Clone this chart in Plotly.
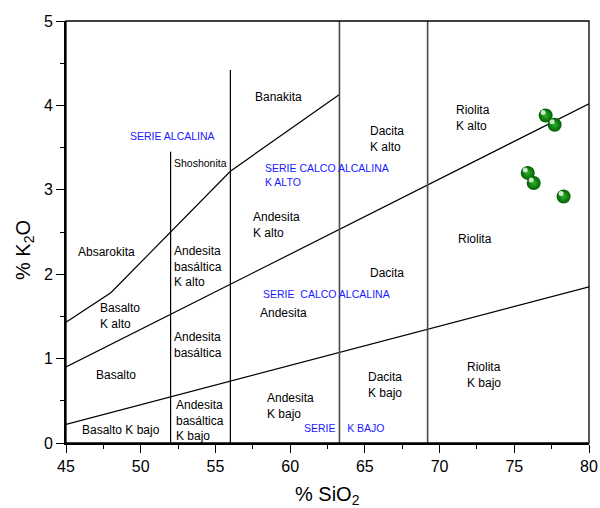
import plotly.graph_objects as go

# Sample analyses
sio2 = [77.1, 77.7, 75.9, 76.3, 78.3]
k2o = [3.88, 3.77, 3.20, 3.08, 2.92]

# Field boundaries (SiO2, K2O)
shosh_x = [45, 48, 56, 63.3]
shosh_y = [1.43, 1.78, 3.22, 4.13]
highk_x = [45, 80]
highk_y = [0.90, 4.02]
lowk_x = [45, 80]
lowk_y = [0.22, 1.85]
div_black_x = [52, 56]
div_black_top = [3.45, 4.42]
div_grey_x = [63.3, 69.2]

# Field names (black) and series names (blue)
field_text = ["Banakita", "Absarokita", "Shoshonita", "Andesita<br>K alto",
              "Dacita<br>K alto", "Riolita<br>K alto", "Riolita",
              "Andesita<br>basáltica<br>K alto", "Dacita", "Andesita",
              "Basalto<br>K alto", "Andesita<br>basáltica", "Basalto",
              "Basalto K bajo", "Andesita<br>basáltica<br>K bajo",
              "Andesita<br>K bajo", "Dacita<br>K bajo", "Riolita<br>K bajo"]
field_x = [57.64, 45.82, 52.22, 57.53, 65.33, 71.07, 71.24, 52.22, 65.33, 57.98,
           47.27, 52.22, 47.0, 46.05, 52.34, 58.42, 65.22, 71.84]
field_y = [4.095, 2.26, 3.32, 2.58, 3.60, 3.85, 2.42, 2.09, 2.02, 1.54,
           1.50, 1.16, 0.80, 0.16, 0.27, 0.44, 0.69, 0.81]
series_text = ["SERIE ALCALINA", "SERIE CALCO ALCALINA<br>K ALTO",
               "SERIE&nbsp; CALCO ALCALINA", "SERIE&nbsp;&nbsp;&nbsp; K BAJO"]
series_x = [49.28, 58.31, 58.16, 60.92]
series_y = [3.64, 3.17, 1.77, 0.18]

FONT = "Liberation Sans, Arial, sans-serif"

fig = go.Figure()

line_style = dict(color="black", width=1.2)
for xs, ys in [(shosh_x, shosh_y), (highk_x, highk_y), (lowk_x, lowk_y)]:
    fig.add_trace(go.Scatter(x=xs, y=ys, mode="lines", line=line_style,
                             hoverinfo="skip", showlegend=False))
for xv, top in zip(div_black_x, div_black_top):
    fig.add_trace(go.Scatter(x=[xv, xv], y=[0, top], mode="lines", line=line_style,
                             hoverinfo="skip", showlegend=False))
for xv in div_grey_x:
    fig.add_trace(go.Scatter(x=[xv, xv], y=[0, 5], mode="lines",
                             line=dict(color="#4a4a4a", width=1.6),
                             hoverinfo="skip", showlegend=False))

# Samples drawn as shaded green spheres
fig.add_trace(go.Scatter(
    x=sio2, y=k2o, mode="markers", showlegend=False,
    marker=dict(size=14, color="#005f00",
                gradient=dict(type="radial", color="#2fb02f"),
                line=dict(width=0)),
))

shapes = []
for xv, yv in zip(sio2, k2o):
    shapes.append(dict(type="circle", xref="x", yref="y",
                       xsizemode="pixel", ysizemode="pixel",
                       xanchor=xv, yanchor=yv,
                       x0=-5, x1=0, y0=0.5, y1=5.5,
                       fillcolor="rgba(235,250,235,0.85)", line=dict(width=0)))
# Plot frame (top and right edges)
shapes.append(dict(type="rect", xref="paper", yref="paper", x0=0, x1=1, y0=0, y1=1,
                   line=dict(color="black", width=1.3), fillcolor="rgba(0,0,0,0)",
                   layer="above"))

annotations = []
for t, xv, yv in zip(field_text, field_x, field_y):
    size = 10.5 if t == "Shoshonita" else 12
    annotations.append(dict(x=xv, y=yv, xref="x", yref="y", text=t, showarrow=False,
                            xanchor="left", yanchor="middle", align="left", xshift=-2,
                            font=dict(family=FONT, size=size, color="black")))
for t, xv, yv in zip(series_text, series_x, series_y):
    annotations.append(dict(x=xv, y=yv, xref="x", yref="y", text=t, showarrow=False,
                            xanchor="left", yanchor="middle", align="left", xshift=-2,
                            font=dict(family=FONT, size=10.5, color="#1a1aff")))

# Axis titles, placed in pixel terms relative to the plot area
ML, MR, MT, MB = 66, 11, 21, 65
plot_w = 600 - ML - MR
plot_h = 508 - MT - MB
annotations.append(dict(x=(327 - ML) / plot_w, y=(508 - MB - 495) / plot_h,
                        xref="paper", yref="paper", text="% SiO<sub>2</sub>",
                        xanchor="center", yanchor="middle", showarrow=False,
                        font=dict(family=FONT, size=20, color="black")))
annotations.append(dict(x=(24 - ML) / plot_w, y=(508 - MB - 250) / plot_h,
                        xref="paper", yref="paper", text="% K<sub>2</sub>O",
                        xanchor="center", yanchor="middle", showarrow=False,
                        textangle=-90,
                        font=dict(family=FONT, size=20, color="black")))

fig.update_layout(
    width=600, height=508,
    margin=dict(l=ML, r=MR, t=MT, b=MB, autoexpand=False),
    paper_bgcolor="white", plot_bgcolor="white",
    font=dict(family=FONT, color="black"),
    shapes=shapes,
    annotations=annotations,
    xaxis=dict(range=[45, 80], tickvals=[45, 50, 55, 60, 65, 70, 75, 80],
               ticks="outside", ticklen=8, tickwidth=1.3, tickcolor="black",
               showline=True, linecolor="black", linewidth=2, showgrid=False,
               zeroline=False, tickfont=dict(size=16, family=FONT),
               minor=dict(tickvals=[47.5, 52.5, 57.5, 62.5, 67.5, 72.5, 77.5],
                          ticks="outside", ticklen=4, tickwidth=1.3, tickcolor="black",
                          showgrid=False)),
    yaxis=dict(range=[0, 5], tickvals=[0, 1, 2, 3, 4, 5],
               ticks="outside", ticklen=8, tickwidth=1.3, tickcolor="black",
               showline=True, linecolor="black", linewidth=2, showgrid=False,
               zeroline=False, tickfont=dict(size=16, family=FONT),
               minor=dict(tickvals=[0.5, 1.5, 2.5, 3.5, 4.5],
                          ticks="outside", ticklen=4, tickwidth=1.3, tickcolor="black",
                          showgrid=False)),
)

fig.write_html("out.html")
